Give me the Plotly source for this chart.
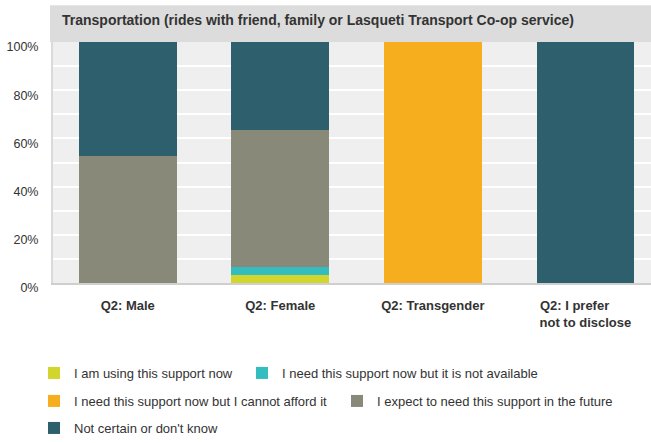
import plotly.graph_objects as go

categories = ["Q2: Male", "Q2: Female", "Q2: Transgender", "Q2: I prefer not to disclose"]
category_labels = ["Q2: Male", "Q2: Female", "Q2: Transgender",
                   "Q2: I prefer\u00a0\u00a0\u00a0\u00a0\u00a0\u00a0<br>not to disclose"]
series_names = [
    "I am using this support now",
    "I need this support now but it is not available",
    "I need this support now but I cannot afford it",
    "I expect to need this support in the future",
    "Not certain or don't know",
]
using_now = [0, 3.3, 0, 0]
not_available = [0, 3.3, 0, 0]
cannot_afford = [0, 0, 100, 0]
expect_future = [52.6, 56.7, 0, 0]
not_certain = [47.4, 36.7, 0, 100]
y_ticks = [0, 20, 40, 60, 80, 100]
y_tick_labels = ["0%", "20%", "40%", "60%", "80%", "100%"]

colors = ["#D2D52B", "#34BDBF", "#F6AE1F", "#898979", "#2E5F6C"]
values = [using_now, not_available, cannot_afford, expect_future, not_certain]

W, H = 651, 443
L, R, T, B = 53, 0, 42, 159
pw, ph = W - L - R, H - T - B
FONT = "Arial, Liberation Sans, sans-serif"

def px_x(p):
    return (p - L) / pw

def px_y(p):
    return (H - B - p) / ph

# legend entry positions (legend left px, center y px)
leg_pos = [(34, 373), (242, 373), (34, 401), (337, 401), (34, 429)]
legend_ids = ["legend", "legend2", "legend3", "legend4", "legend5"]

fig = go.Figure()
for i, (name, vals, col) in enumerate(zip(series_names, values, colors)):
    fig.add_trace(go.Bar(
        x=categories, y=vals, name=name, marker_color=col,
        marker_line_width=0, width=0.64, legend=legend_ids[i],
    ))

layout_legends = {}
for i, (lx, ly) in enumerate(leg_pos):
    layout_legends[legend_ids[i]] = dict(
        x=px_x(lx), y=px_y(ly), xanchor="left", yanchor="middle",
        orientation="h", bgcolor="rgba(0,0,0,0)", borderwidth=0,
        font=dict(family=FONT, size=13, color="#333333"),
        itemwidth=30, itemclick=False,
    )

fig.update_layout(
    width=W, height=H,
    margin=dict(l=L, r=R, t=T, b=B, pad=0),
    paper_bgcolor="white", plot_bgcolor="#EFEFEF",
    barmode="stack",
    font=dict(family=FONT, size=12, color="#333333"),
    title=dict(
        text="<b>Transportation (rides with friend, family or Lasqueti Transport Co-op service)</b>",
        x=62 / W, xanchor="left", y=1 - 20 / H, yanchor="middle",
        font=dict(size=14, color="#333333", family=FONT),
    ),
    shapes=[dict(type="rect", xref="paper", yref="paper",
                 x0=px_x(50), x1=1.0, y0=1.0, y1=px_y(5),
                 fillcolor="#DCDCDC", line_width=0, layer="below")],
    xaxis=dict(
        range=[-0.49, 3.43], showgrid=False, zeroline=False,
        showline=True, linecolor="#CFCFCF", linewidth=2,
        tickmode="array", tickvals=categories,
        ticktext=["<b>" + t + "</b>" for t in category_labels],
        tickfont=dict(size=13, color="#333333", family=FONT),
        ticklabelstandoff=9,
    ),
    yaxis=dict(
        range=[0, 100], tickmode="array", tickvals=y_ticks, ticktext=y_tick_labels,
        showgrid=True, gridcolor="white", gridwidth=2,
        minor=dict(dtick=10, showgrid=True, gridcolor="white", gridwidth=2),
        zeroline=False, showline=True, linecolor="#DADADA", linewidth=2,
        tickfont=dict(size=12.5, color="#333333", family=FONT),
        ticklabelstandoff=10, ticklabelshift=5,
    ),
    showlegend=True,
    **layout_legends,
)

fig.write_html("out.html", config={"displayModeBar": False},
               post_script="document.body.style.margin='0';")
